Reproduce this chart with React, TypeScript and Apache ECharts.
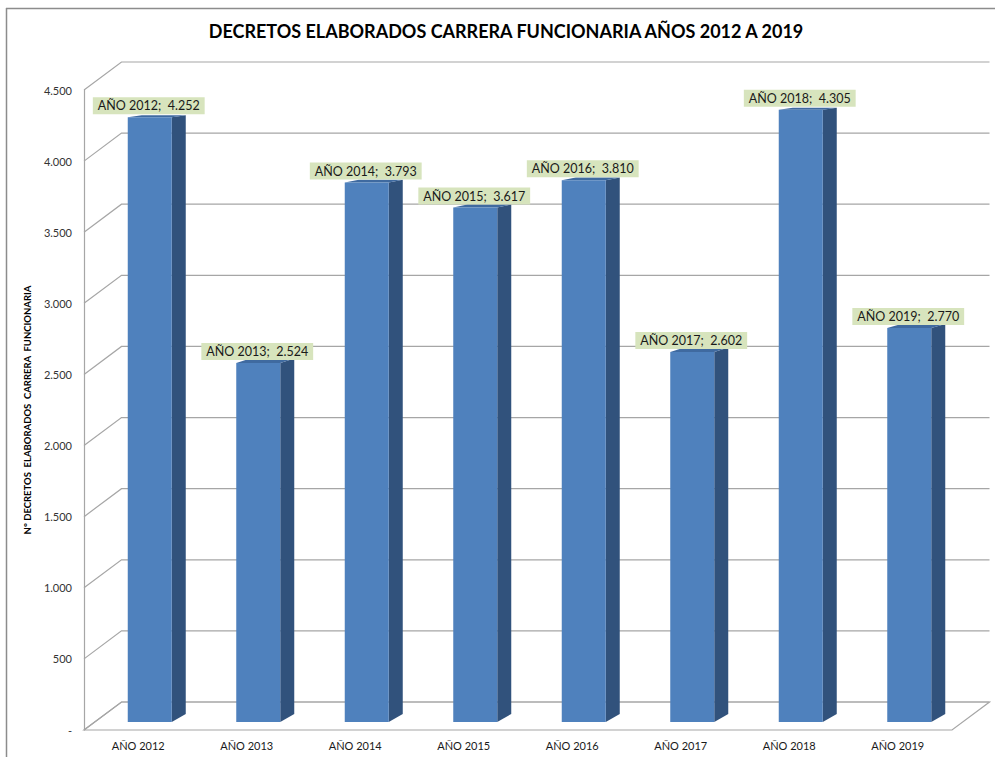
import React, { useEffect, useRef } from "react";
import * as echarts from "echarts";

const categories = ["AÑO 2012", "AÑO 2013", "AÑO 2014", "AÑO 2015", "AÑO 2016", "AÑO 2017", "AÑO 2018", "AÑO 2019"];
const values = [4252, 2524, 3793, 3617, 3810, 2602, 4305, 2770];
const tickValues = [0, 500, 1000, 1500, 2000, 2500, 3000, 3500, 4000, 4500];

const TITLE = "DECRETOS ELABORADOS CARRERA FUNCIONARIA AÑOS 2012 A 2019";
const Y_NAME = "N° DECRETOS  ELABORADOS  CARRERA  FUNCIONARIA";

const fmt = (v: number) => (v === 0 ? "-" : String(v).replace(/\B(?=(\d{3})+(?!\d))/g, "."));

const DEPTH_X = 37.5;
const DEPTH_Y = -28;
const GRID_COLOR = "#a6a6a6";
const FONT = "Lato";

export default function App() {
  const ref = useRef<HTMLDivElement>(null);
  useEffect(() => {
    if (!ref.current) return;
    const chart = echarts.init(ref.current, undefined, { renderer: "svg" });
    const option: any = {
      animation: false,
      backgroundColor: "#ffffff",
      grid: { left: 84, right: 43, top: 90, bottom: 27, containLabel: false },
      graphic: [
        { type: "line", shape: { x1: 6.5, y1: 8, x2: 6.5, y2: 757 }, style: { stroke: "#8c8c8c", lineWidth: 1.5 }, silent: true },
        { type: "line", shape: { x1: 6, y1: 8.5, x2: 995, y2: 8.5 }, style: { stroke: "#8c8c8c", lineWidth: 1.5 }, silent: true },
        {
          type: "text",
          x: 506,
          y: 31,
          style: { text: TITLE, align: "center", verticalAlign: "middle", font: `bold 18px ${FONT}`, fill: "#000000" },
        },
      ],
      xAxis: {
        type: "category",
        data: categories,
        boundaryGap: true,
        axisLine: { show: false },
        axisTick: { show: false },
        splitLine: { show: false },
        axisLabel: { margin: 10, fontSize: 11, color: "#1a1a1a", fontFamily: FONT, interval: 0 },
      },
      yAxis: {
        type: "value",
        min: 0,
        max: 4500,
        interval: 500,
        name: Y_NAME,
        nameLocation: "middle",
        nameGap: 51,
        nameTextStyle: { fontSize: 9.5, fontWeight: "bold", color: "#000000", fontFamily: FONT },
        axisLine: { show: true, lineStyle: { color: GRID_COLOR, width: 1.2 } },
        axisTick: { show: false },
        splitLine: { show: false },
        axisLabel: { margin: 12, fontSize: 11, color: "#333333", fontFamily: FONT, formatter: (v: number) => fmt(v) },
      },
      series: [
        {
          type: "custom",
          clip: false,
          silent: true,
          z: 1,
          data: tickValues.map((v) => [0, v]),
          encode: { x: 0, y: 1 },
          renderItem: (params: any, api: any) => {
            const cs = params.coordSys;
            const v = api.value(1);
            const y = api.coord([0, v])[1];
            const xl = cs.x;
            const xr = cs.x + cs.width;
            const children: any[] = [
              {
                type: "polyline",
                shape: {
                  points: [
                    [xl, y],
                    [xl + DEPTH_X, y + DEPTH_Y],
                    [xr + DEPTH_X, y + DEPTH_Y],
                  ],
                },
                style: { stroke: GRID_COLOR, lineWidth: 1.2, fill: null },
              },
            ];
            if (v === 0) {
              children.push({
                type: "polygon",
                shape: {
                  points: [
                    [xl, y],
                    [xr, y],
                    [xr + DEPTH_X, y + DEPTH_Y],
                    [xl + DEPTH_X, y + DEPTH_Y],
                  ],
                },
                style: { stroke: GRID_COLOR, lineWidth: 1.2, fill: null },
              });
            }
            return { type: "group", children };
          },
        },
        {
          type: "custom",
          clip: false,
          z: 2,
          data: values.map((v, i) => [i, v]),
          encode: { x: 0, y: 1 },
          renderItem: (params: any, api: any) => {
            const i = api.value(0);
            const v = api.value(1);
            const p = api.coord([i, v]);
            const b = api.coord([i, 0]);
            const cx = p[0] + 11.5;
            const top = p[1] - 8;
            const base = b[1] - 8;
            const w = 44;
            const x0 = cx - w / 2;
            const x1 = cx + w / 2;
            const d = 14;
            const dyBase = -8;
            const dyTop = -8 + ((base - top) * 6) / 614;
            return {
              type: "group",
              children: [
                {
                  type: "polygon",
                  shape: { points: [[x1, top], [x1 + d, top + dyTop], [x1 + d, base + dyBase], [x1, base]] },
                  style: { fill: "#31527c" },
                },
                {
                  type: "polygon",
                  shape: { points: [[x0, top], [x1, top], [x1 + d, top + dyTop], [x0 + d, top + dyTop]] },
                  style: { fill: "#3f6aa0" },
                },
                {
                  type: "rect",
                  shape: { x: x0, y: top, width: w, height: base - top },
                  style: { fill: "#4f81bd" },
                },
                {
                  type: "text",
                  z2: 10,
                  x: cx - 1,
                  y: top - 3,
                  style: {
                    text: `${categories[i]};  ${fmt(v)}`,
                    align: "center",
                    verticalAlign: "bottom",
                    font: `12.5px ${FONT}`,
                    fill: "#1a1a1a",
                    backgroundColor: "#d7e4bd",
                    padding: [2, 5, 2, 5],
                  },
                },
              ],
            };
          },
        },
      ],
    };
    chart.setOption(option);
    return () => chart.dispose();
  }, []);
  return (
    <div
      ref={ref}
      style={{ position: "absolute", left: 0, top: 0, width: 995, height: 757, background: "#ffffff" }}
    />
  );
}
